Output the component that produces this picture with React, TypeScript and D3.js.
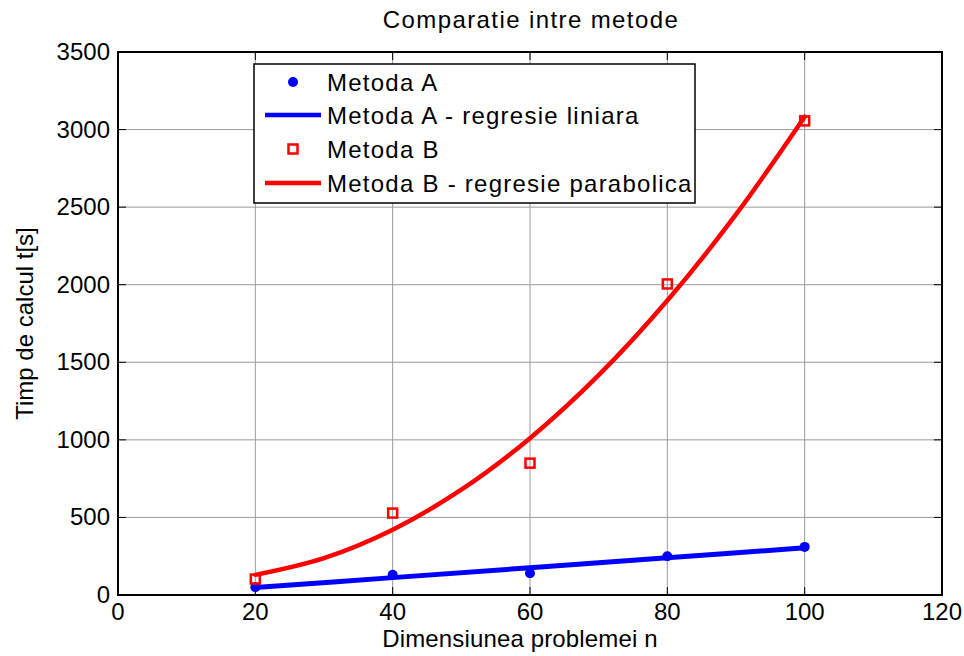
import React from "react";
import * as d3 from "d3";

const xTicks = [0, 20, 40, 60, 80, 100, 120];
const yTicks = [0, 500, 1000, 1500, 2000, 2500, 3000, 3500];

const nValues = [20, 40, 60, 80, 100];
const metodaA = [50, 130, 140, 250, 310];
const metodaB = [103, 528, 850, 2005, 3056];

const fitAX = [20, 40, 60, 80, 100];
const fitAY = [48, 112, 176, 240, 304];
const fitBX = [20, 30, 40, 50, 60, 70, 80, 90, 100];
const fitBY = [130, 238, 421, 679, 1011, 1417, 1898, 2453, 3083];

const W = 964;
const H = 656;
const left = 118;
const right = 942;
const top = 52;
const bottom = 595;
const font = "'Liberation Sans', Arial, Helvetica, sans-serif";

export default function App() {
  const x = d3.scaleLinear().domain([0, 120]).range([left, right]);
  const y = d3.scaleLinear().domain([0, 3500]).range([bottom, top]);

  const line = d3
    .line<[number, number]>()
    .x((d) => x(d[0]))
    .y((d) => y(d[1]))
    .curve(d3.curveCatmullRom);

  const aFit = line(fitAX.map((v, i) => [v, fitAY[i]] as [number, number])) || "";
  const bFit = line(fitBX.map((v, i) => [v, fitBY[i]] as [number, number])) || "";

  const tick = 8;
  const legX = 254;
  const legY = 64;
  const legW = 441;
  const legH = 139;
  const rows = [82, 115, 149, 183];
  const labels = [
    "Metoda A",
    "Metoda A - regresie liniara",
    "Metoda B",
    "Metoda B - regresie parabolica",
  ];

  return (
    <svg
      width={W}
      height={H}
      style={{ position: "absolute", left: 0, top: 0, background: "#fff" }}
      fontFamily={font}
    >
      <rect x={0} y={0} width={W} height={H} fill="#fff" />
      {/* grid */}
      {xTicks.slice(1, -1).map((t) => (
        <line key={"gx" + t} x1={x(t)} x2={x(t)} y1={top} y2={bottom} stroke="#9a9a9a" strokeWidth={1} />
      ))}
      {yTicks.slice(1, -1).map((t) => (
        <line key={"gy" + t} x1={left} x2={right} y1={y(t)} y2={y(t)} stroke="#9a9a9a" strokeWidth={1} />
      ))}
      {/* ticks */}
      {xTicks.map((t) => (
        <g key={"tx" + t}>
          <line x1={x(t)} x2={x(t)} y1={bottom} y2={bottom - tick} stroke="#000" strokeWidth={1} />
          <line x1={x(t)} x2={x(t)} y1={top} y2={top + tick} stroke="#000" strokeWidth={1} />
          <text x={x(t)} y={620} textAnchor="middle" fontSize={24} fill="#000">
            {t}
          </text>
        </g>
      ))}
      {yTicks.map((t) => (
        <g key={"ty" + t}>
          <line x1={left} x2={left + tick} y1={y(t)} y2={y(t)} stroke="#000" strokeWidth={1} />
          <line x1={right} x2={right - tick} y1={y(t)} y2={y(t)} stroke="#000" strokeWidth={1} />
          <text x={110} y={y(t) + 8} textAnchor="end" fontSize={24} fill="#000">
            {t}
          </text>
        </g>
      ))}
      {/* axes box */}
      <rect x={left} y={top} width={right - left} height={bottom - top} fill="none" stroke="#000" strokeWidth={2} />

      {/* Metoda A points */}
      {nValues.map((n, i) => (
        <circle key={"a" + i} cx={x(n)} cy={y(metodaA[i])} r={5} fill="#0000ff" />
      ))}
      <path d={aFit} fill="none" stroke="#0000ff" strokeWidth={5} strokeLinecap="round" />
      {/* Metoda B points */}
      {nValues.map((n, i) => (
        <rect
          key={"b" + i}
          x={x(n) - 4.5}
          y={y(metodaB[i]) - 4.5}
          width={9}
          height={9}
          fill="none"
          stroke="#ff0000"
          strokeWidth={2.5}
        />
      ))}
      <path d={bFit} fill="none" stroke="#ff0000" strokeWidth={4.5} strokeLinecap="round" />

      {/* legend */}
      <rect x={legX} y={legY} width={legW} height={legH} fill="#fff" stroke="#000" strokeWidth={1.5} />
      <circle cx={293} cy={rows[0]} r={5} fill="#0000ff" />
      <line x1={265} x2={321} y1={rows[1]} y2={rows[1]} stroke="#0000ff" strokeWidth={4.5} />
      <rect x={288.5} y={rows[2] - 4.5} width={9} height={9} fill="none" stroke="#ff0000" strokeWidth={2.5} />
      <line x1={265} x2={321} y1={rows[3]} y2={rows[3]} stroke="#ff0000" strokeWidth={4.5} />
      {labels.map((l, i) => (
        <text key={l} x={327} y={rows[i] + 8.5} fontSize={24} fill="#000" letterSpacing={1.25}>
          {l}
        </text>
      ))}

      {/* titles */}
      <text x={(left + right) / 2 + 1} y={28} textAnchor="middle" fontSize={24} fill="#000" letterSpacing={1.4}>
        Comparatie intre metode
      </text>
      <text x={(left + right) / 2 - 10} y={647} textAnchor="middle" fontSize={24} fill="#000" letterSpacing={0.15}>
        Dimensiunea problemei n
      </text>
      <text
        transform={`translate(33, ${(top + bottom) / 2}) rotate(-90)`}
        textAnchor="middle"
        fontSize={24}
        fill="#000"
      >
        Timp de calcul t[s]
      </text>
    </svg>
  );
}
